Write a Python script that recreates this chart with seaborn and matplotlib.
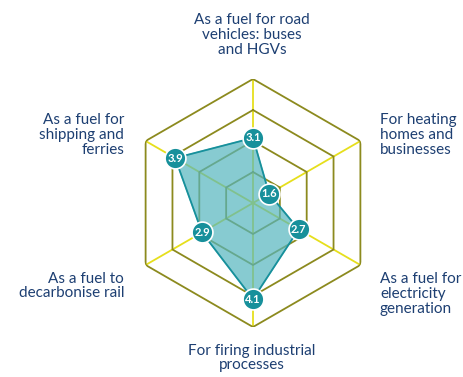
import numpy as np
import matplotlib
matplotlib.use("Agg")
import matplotlib.pyplot as plt
import seaborn as sns

# Data
categories = [
    "As a fuel for road\nvehicles: buses\nand HGVs",
    "For heating\nhomes and\nbusinesses",
    "As a fuel for\nelectricity\ngeneration",
    "For firing industrial\nprocesses",
    "As a fuel to\ndecarbonise rail",
    "As a fuel for\nshipping and\nferries",
]
scores = [3.1, 1.6, 2.7, 4.1, 2.9, 3.9]
ring_levels = [2, 3, 4, 5]

sns.set_style("white")
plt.rcParams["font.family"] = ["Lato", "DejaVu Sans"]

TEXT = "#1d3f72"
RING = "#8c8a1e"
SPOKE = "#e6df1c"
TEAL = "#17909b"
FILL = "#55b5be"

fig = plt.figure(figsize=(4.63, 3.77), dpi=100)
W, H = 463, 377
cx, cy, R = 253, 203, 124
ax = fig.add_axes([(cx - R) / W, 1 - (cy + R) / H, 2 * R / W, 2 * R / H],
                  projection="polar")
ax.set_theta_zero_location("N")
ax.set_theta_direction(-1)
ax.set_ylim(1, 5)
ax.grid(False)
ax.set_xticks([])
ax.set_yticks([])
ax.spines["polar"].set_visible(False)
ax.patch.set_alpha(0)

n = len(categories)
angles = np.arange(n) * 2 * np.pi / n
closed = np.append(angles, angles[0])

# spokes
for a in angles:
    ax.plot([a, a], [1, 5], color=SPOKE, lw=1.3, zorder=1)
# hexagon rings
for lvl in ring_levels:
    ax.plot(closed, [lvl] * (n + 1), color=RING, lw=1.3, zorder=2)

# data polygon
vals = np.append(scores, scores[0])
ax.fill(closed, vals, color=FILL, alpha=0.7, zorder=3)
ax.plot(closed, vals, color=TEAL, lw=1.3, zorder=4)
ax.plot(angles, scores, "o", ms=15, color=TEAL, mec="white", mew=1.2,
        zorder=5, clip_on=False)
for a, v in zip(angles, scores):
    ax.text(a, v, f"{v}", ha="center", va="center", color="white",
            fontsize=8, fontweight="bold", zorder=6)

# category labels
label_pos = [
    (252, 35, "center"),
    (380, 135, "left"),
    (380, 294, "left"),
    (252, 358, "center"),
    (124, 286, "right"),
    (124, 135, "right"),
]
for txt, (x, y, ha) in zip(categories, label_pos):
    fig.text(x / W, 1 - y / H, txt, ha=ha, va="center", color=TEXT,
             fontsize=11, linespacing=1.05, multialignment=ha)

fig.savefig("out.png", dpi=100)
